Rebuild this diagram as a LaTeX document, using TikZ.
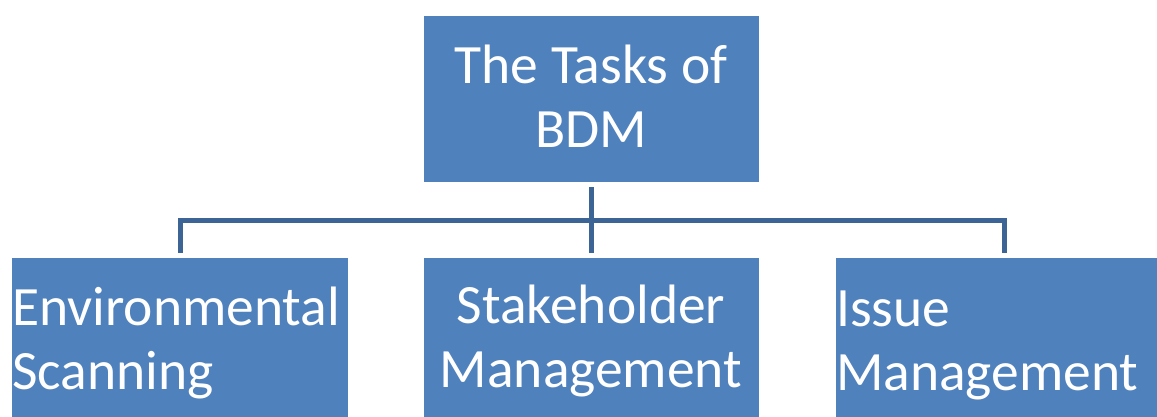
\documentclass[tikz,border=0pt]{standalone}
\usepackage{fontspec}
\setmainfont{Carlito}
\definecolor{boxblue}{HTML}{4F81BD}
\definecolor{linkblue}{RGB}{60,100,148}
\begin{document}
\begin{tikzpicture}[x=1pt,y=-1pt,
  box/.style={fill=boxblue, draw=none, inner sep=0pt, outer sep=0pt, anchor=north west},
  lbl/.style={text=white, inner sep=0pt, font=\fontsize{55.5}{64}\selectfont},
  link/.style={draw=linkblue, line width=5pt, line join=miter}]
\clip (0,0) rectangle (1157,416);
\fill[white] (0,0) rectangle (1157,416);
\node[box, minimum width=335pt, minimum height=166pt] (root) at (424,16) {};
\node[box, minimum width=336pt, minimum height=170pt] (env) at (12,258) {};
\node[box, minimum width=335pt, minimum height=170pt] (stake) at (424,258) {};
\node[box, minimum width=336pt, minimum height=170pt] (issue) at (836,258) {};
\node[lbl, anchor=base] (rootText) at (591,83) {\parbox[t]{330pt}{\centering The Tasks of\\BDM}};
\node[lbl, anchor=base west] (envText) at (12,325) {\parbox[t]{400pt}{\raggedright Environmental\\Scanning}};
\node[lbl, anchor=base] (stakeText) at (591,323) {\parbox[t]{330pt}{\centering Stakeholder\\Management}};
\node[lbl, anchor=base west] (issueText) at (836,326) {\parbox[t]{400pt}{\raggedright Issue\\Management}};
\coordinate (bar) at (591,220);
\draw[link] ([yshift=-5pt]root.south) -- ([yshift=5pt]stake.north);
\draw[link] ([yshift=5pt]env.north) |- (bar) -| ([yshift=5pt]issue.north);
\end{tikzpicture}
\end{document}
